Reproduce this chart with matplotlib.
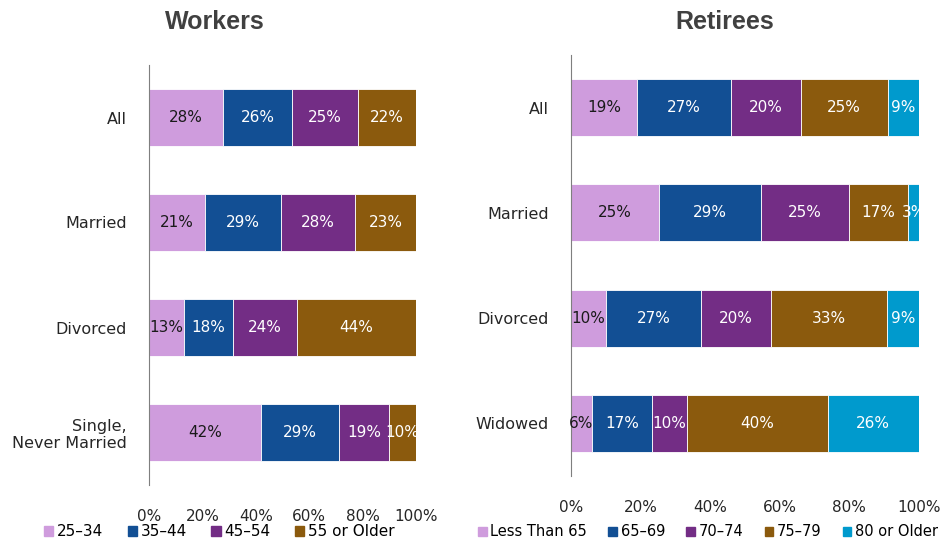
import numpy as np
import matplotlib.pyplot as plt
from matplotlib.patches import Patch

# =========================
# Data
# =========================
worker_groups = ["All", "Married", "Divorced", "Single,\nNever Married"]
worker_ages = ["25–34", "35–44", "45–54", "55 or Older"]
worker_vals = [
    [28, 26, 25, 22],
    [21, 29, 28, 23],
    [13, 18, 24, 44],
    [42, 29, 19, 10],
]

retiree_groups = ["All", "Married", "Divorced", "Widowed"]
retiree_ages = ["Less Than 65", "65–69", "70–74", "75–79", "80 or Older"]
retiree_vals = [
    [19, 27, 20, 25, 9],
    [25, 29, 25, 17, 3],
    [10, 27, 20, 33, 9],
    [6, 17, 10, 40, 26],
]

colors = ["#CF9CDD", "#124F94", "#732D85", "#8B5A0D", "#009ACD"]
text_colors = ["#1a1a1a", "white", "white", "white", "white"]

plt.rcParams['font.family'] = ['DejaVu Sans']
fig = plt.figure(figsize=(9.45, 5.46), dpi=100)


def panel(rect, groups, labels, vals):
    ax = fig.add_axes(rect)
    vals = np.array(vals, dtype=float)
    share = vals / vals.sum(axis=1, keepdims=True) * 100  # bars fill to 100%
    y = np.arange(len(groups))
    left = np.zeros(len(groups))
    for j in range(vals.shape[1]):
        ax.barh(y, share[:, j], left=left, height=0.54, color=colors[j],
                edgecolor="white", linewidth=0.6, label=labels[j])
        for i in range(len(groups)):
            ax.text(left[i] + share[i, j] / 2, y[i], f"{vals[i, j]:.0f}%",
                    ha="center", va="center", fontsize=11,
                    color=text_colors[j], clip_on=False)
        left += share[:, j]
    ax.set_xlim(0, 100)
    ax.set_ylim(len(groups) - 0.5, -0.5)
    ax.set_yticks(y)
    ax.set_yticklabels(groups, fontsize=11.5, color="#262626")
    ax.set_xticks([0, 20, 40, 60, 80, 100])
    ax.set_xticklabels(["0%", "20%", "40%", "60%", "80%", "100%"],
                       fontsize=11, color="#262626")
    ax.tick_params(length=0, axis="both")
    ax.tick_params(axis="x", pad=17)
    ax.tick_params(axis="y", pad=16)
    for s in ["top", "right", "bottom"]:
        ax.spines[s].set_visible(False)
    ax.spines["left"].set_color("#7f7f7f")
    return ax


ax1 = panel([149 / 945, 1 - 485 / 546, 267 / 945, 420 / 546],
            worker_groups, worker_ages, worker_vals)
ax2 = panel([571 / 945, 1 - 476 / 546, 348 / 945, 421 / 546],
            retiree_groups, retiree_ages, retiree_vals)

fig.text(215 / 945, 1 - 22 / 546, "Workers", ha="center", va="center",
         fontsize=18, fontweight="bold", color="#404040", family="Liberation Sans")
fig.text(725 / 945, 1 - 22 / 546, "Retirees", ha="center", va="center",
         fontsize=18, fontweight="bold", color="#404040", family="Liberation Sans")

# legends
h1 = [Patch(color=colors[j]) for j in range(len(worker_ages))]
fig.legend(h1, worker_ages, loc="center left", bbox_to_anchor=(44 / 945, 1 - 532 / 546),
           ncol=4, frameon=False, fontsize=11, handlelength=0.6, handleheight=0.6,
           handletextpad=0.25, columnspacing=1.6, borderaxespad=0, borderpad=0)
h2 = [Patch(color=colors[j]) for j in range(len(retiree_ages))]
fig.legend(h2, retiree_ages, loc="center left", bbox_to_anchor=(478 / 945, 1 - 532 / 546),
           ncol=5, frameon=False, fontsize=10.5, handlelength=0.6, handleheight=0.6,
           handletextpad=0.25, columnspacing=1.45, borderaxespad=0, borderpad=0)

fig.savefig("out.png", dpi=100)
